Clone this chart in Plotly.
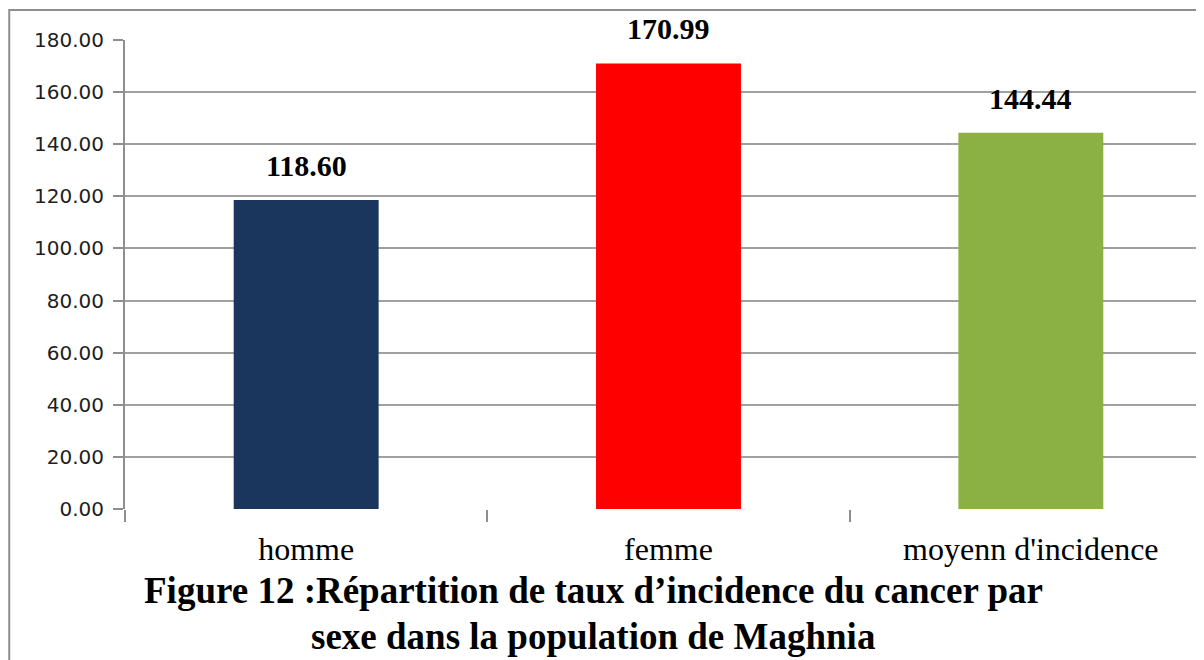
import plotly.graph_objects as go

categories = ["homme", "femme", "moyenn d'incidence"]
values = [118.60, 170.99, 144.44]
bar_colors = ["#1a365d", "#ff0000", "#8bb043"]
y_ticks = [0, 20, 40, 60, 80, 100, 120, 140, 160, 180]
caption_lines = ["Figure 12 :Répartition de taux d’incidence du cancer par",
                 "sexe dans la population de Maghnia"]

fig = go.Figure()
fig.add_trace(go.Bar(
    x=categories, y=values, width=0.4,
    marker=dict(color=bar_colors, line=dict(width=0)),
    hoverinfo="skip", showlegend=False,
))

for c, v in zip(categories, values):
    fig.add_annotation(x=c, y=v, xref="x", yref="y", text=f"{v:.2f}",
                       showarrow=False, yanchor="bottom", yshift=16,
                       font=dict(family="Liberation Serif", size=30, color="#000000", weight="bold"))

fig.add_annotation(x=0.431, y=-0.1748, xref="paper", yref="paper", text=caption_lines[0],
                   showarrow=False, xanchor="center", yanchor="middle",
                   font=dict(family="Liberation Serif", size=37, color="#000000", weight="bold"))
fig.add_annotation(x=0.431, y=-0.2708, xref="paper", yref="paper", text=caption_lines[1],
                   showarrow=False, xanchor="center", yanchor="middle",
                   font=dict(family="Liberation Serif", size=37, color="#000000", weight="bold"))

# chart frame
fig.add_shape(type="rect", xref="paper", yref="paper",
              x0=-0.1065, x1=1.1, y0=-0.5, y1=1.064,
              line=dict(color="#8e8e8e", width=2), fillcolor="rgba(0,0,0,0)", layer="below")

fig.update_layout(
    width=1204, height=660,
    margin=dict(l=117, r=0, t=32, b=159),
    paper_bgcolor="white", plot_bgcolor="white",
    bargap=0.6,
    xaxis=dict(
        type="category", range=[-0.5, 2.5],
        tickson="boundaries", ticks="outside", ticklen=12, tickcolor="#8e8e8e", tickwidth=2,
        showgrid=False, showline=False, zeroline=False,
        tickfont=dict(family="Liberation Serif", size=32, color="#000000"),
        ticklabelstandoff=18,
    ),
    yaxis=dict(
        range=[0, 180], tickvals=y_ticks, ticktext=[f"{t:.2f}" for t in y_ticks],
        ticks="outside", ticklen=10, tickcolor="#8e8e8e", tickwidth=2,
        showgrid=True, gridcolor="#a0a0a0", gridwidth=2,
        showline=True, linecolor="#8e8e8e", linewidth=2,
        zeroline=False,
        tickfont=dict(family="DejaVu Sans", size=20, color="#1e1e1e"),
        ticklabelstandoff=5,
    ),
)

fig.write_html("out.html")
